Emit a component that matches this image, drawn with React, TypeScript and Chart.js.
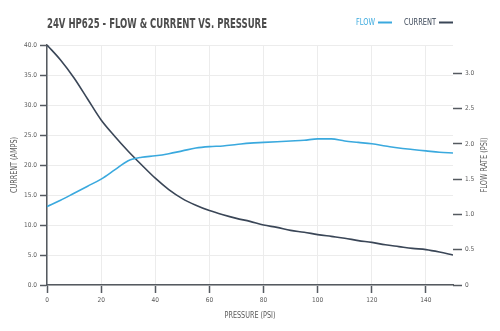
import React, { useEffect, useRef } from "react";
import { Chart, registerables } from "chart.js";

Chart.register(...registerables);

const TITLE = "24V HP625 - FLOW & CURRENT VS. PRESSURE";
const X_TITLE = "PRESSURE (PSI)";
const Y_LEFT_TITLE = "CURRENT (AMPS)";
const Y_RIGHT_TITLE = "FLOW RATE (PSI)";
const FLOW_LABEL = "FLOW";
const CURRENT_LABEL = "CURRENT";

const pressure = [0, 5, 10, 15, 20, 25, 30, 35, 40, 45, 50, 55, 60, 65, 70, 75, 80, 85, 90, 95, 100, 105, 110, 115, 120, 125, 130, 135, 140, 145, 150];
const current = [40.0, 37.5, 34.5, 31.0, 27.5, 24.8, 22.3, 20.0, 17.8, 15.9, 14.4, 13.3, 12.4, 11.7, 11.1, 10.6, 10.0, 9.6, 9.1, 8.8, 8.4, 8.1, 7.8, 7.4, 7.1, 6.7, 6.4, 6.1, 5.9, 5.5, 5.0];
const flow = [1.11, 1.20, 1.30, 1.40, 1.50, 1.63, 1.76, 1.81, 1.83, 1.86, 1.90, 1.94, 1.96, 1.97, 1.99, 2.01, 2.02, 2.03, 2.04, 2.05, 2.07, 2.07, 2.04, 2.02, 2.00, 1.97, 1.94, 1.92, 1.90, 1.88, 1.87];

const xTickStep = 20;
const leftTickStep = 5;
const rightTickStep = 0.5;

const FONT = "'DejaVu Sans Condensed', 'Liberation Sans', sans-serif";
const FLOW_COLOR = "#3aa9de";
const CURRENT_COLOR = "#3a4657";
const TEXT_COLOR = "#5a5a5a";
const AXIS_COLOR = "#555a60";
const GRID_COLOR = "#ececec";

// draw text horizontally compressed to a target width (keeps it real text)
function fillFit(ctx: CanvasRenderingContext2D, text: string, x: number, y: number, width: number, align: "left" | "right" | "center") {
  const w = ctx.measureText(text).width;
  const sx = Math.min(1, width / w);
  ctx.save();
  ctx.translate(x, y);
  ctx.scale(sx, 1);
  ctx.textAlign = align;
  ctx.fillText(text, 0, 0);
  ctx.restore();
  return w * sx;
}

const decor = {
  id: "decor",
  afterDraw(chart: any) {
    const ctx = chart.ctx as CanvasRenderingContext2D;
    const a = chart.chartArea;
    const cx = (a.left + a.right) / 2;
    const cy = (a.top + a.bottom) / 2;
    ctx.save();
    // title
    ctx.fillStyle = "#4d4d4d";
    ctx.font = `bold 14px ${FONT}`;
    ctx.textBaseline = "alphabetic";
    fillFit(ctx, TITLE, a.left, 27.5, 220, "left");
    // legend
    ctx.font = `8px ${FONT}`;
    ctx.textBaseline = "middle";
    const ly = 22.5;
    let x = a.right;
    const lineLen = 14;
    ctx.lineWidth = 2;
    ctx.strokeStyle = CURRENT_COLOR;
    ctx.beginPath(); ctx.moveTo(x - lineLen, ly); ctx.lineTo(x, ly); ctx.stroke();
    x -= lineLen + 3;
    ctx.fillStyle = CURRENT_COLOR;
    x -= fillFit(ctx, CURRENT_LABEL, x, ly, 32, "right") + 12;
    ctx.strokeStyle = FLOW_COLOR;
    ctx.beginPath(); ctx.moveTo(x - lineLen, ly); ctx.lineTo(x, ly); ctx.stroke();
    x -= lineLen + 3;
    ctx.fillStyle = FLOW_COLOR;
    fillFit(ctx, FLOW_LABEL, x, ly, 19, "right");
    // axis titles
    ctx.fillStyle = TEXT_COLOR;
    ctx.font = `8px ${FONT}`;
    fillFit(ctx, X_TITLE, cx, 316, 51, "center");
    ctx.save();
    ctx.translate(15, cy);
    ctx.rotate(-Math.PI / 2);
    fillFit(ctx, Y_LEFT_TITLE, 0, 0, 56, "center");
    ctx.restore();
    ctx.save();
    ctx.translate(485, cy);
    ctx.rotate(-Math.PI / 2);
    fillFit(ctx, Y_RIGHT_TITLE, 0, 0, 55, "center");
    ctx.restore();
    ctx.restore();
  },
};

export default function App() {
  const ref = useRef<HTMLCanvasElement>(null);
  useEffect(() => {
    if (!ref.current) return;
    const tickFont = { family: FONT, size: 6.5 };
    const chart = new Chart(ref.current, {
      type: "line",
      data: {
        datasets: [
          {
            label: FLOW_LABEL,
            data: pressure.map((p, i) => ({ x: p, y: flow[i] })),
            yAxisID: "yR",
            borderColor: FLOW_COLOR,
            borderWidth: 1.6,
            pointRadius: 0,
            cubicInterpolationMode: "monotone",
          },
          {
            label: CURRENT_LABEL,
            data: pressure.map((p, i) => ({ x: p, y: current[i] })),
            yAxisID: "yL",
            borderColor: CURRENT_COLOR,
            borderWidth: 1.6,
            pointRadius: 0,
            cubicInterpolationMode: "monotone",
          },
        ],
      },
      options: {
        animation: false,
        responsive: false,
        events: [],
        layout: { padding: { top: 45, left: 0, right: 0, bottom: 0 } },
        plugins: { legend: { display: false }, title: { display: false }, tooltip: { enabled: false } },
        scales: {
          x: {
            type: "linear",
            min: 0,
            max: 150,
            afterBuildTicks: (s: any) => { s.ticks = s.ticks.filter((t: any) => t.value % xTickStep === 0); },
            afterFit: (s: any) => { s.height = 46; },
            ticks: { stepSize: xTickStep, font: tickFont, color: TEXT_COLOR, padding: 3, maxRotation: 0 },
            grid: { color: GRID_COLOR, tickColor: AXIS_COLOR, tickLength: 8, tickWidth: 1.5, lineWidth: 1 },
            border: { color: AXIS_COLOR, width: 1.5 },
          },
          yL: {
            type: "linear",
            position: "left",
            min: 0,
            max: 40,
            afterFit: (s: any) => { s.width = 47; },
            ticks: { stepSize: leftTickStep, font: tickFont, color: TEXT_COLOR, padding: 3, callback: (v: any) => Number(v).toFixed(1) },
            grid: { color: GRID_COLOR, tickColor: AXIS_COLOR, tickLength: 7, tickWidth: 1.5, lineWidth: 1 },
            border: { color: AXIS_COLOR, width: 1.5 },
          },
          yR: {
            type: "linear",
            position: "right",
            min: 0,
            max: 3.4,
            afterBuildTicks: (s: any) => { s.ticks = s.ticks.filter((t: any) => Math.abs(t.value / rightTickStep - Math.round(t.value / rightTickStep)) < 1e-6); },
            afterFit: (s: any) => { s.width = 47; },
            ticks: { stepSize: rightTickStep, font: tickFont, color: TEXT_COLOR, padding: 3, callback: (v: any) => (Number(v) === 0 ? "0" : Number(v).toFixed(1)) },
            grid: { drawOnChartArea: false, tickColor: AXIS_COLOR, tickLength: 9, tickWidth: 1.5 },
            border: { display: false },
          },
        },
      },
      plugins: [decor],
    } as any);
    return () => chart.destroy();
  }, []);
  return (
    <div style={{ position: "fixed", left: 0, top: 0, width: 500, height: 331, background: "#fff" }}>
      <canvas ref={ref} width={500} height={331} style={{ width: 500, height: 331, display: "block" }} />
    </div>
  );
}
